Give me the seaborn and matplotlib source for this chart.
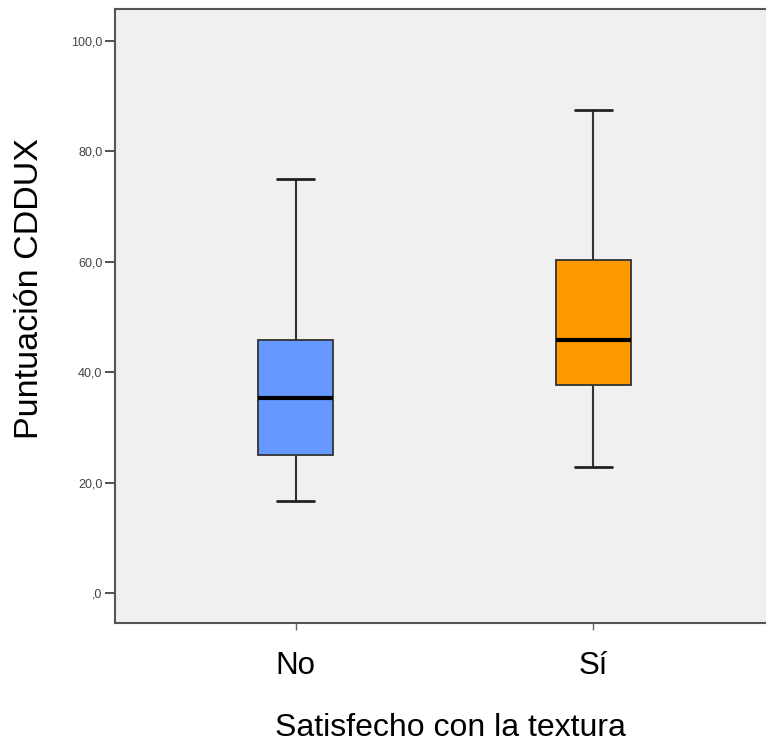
import pandas as pd
import matplotlib.pyplot as plt
import seaborn as sns

# data (five-number summaries per group)
groups = ["No", "Sí"]
no_vals = [16.7, 25.0, 35.4, 45.8, 75.0]
si_vals = [22.9, 37.6, 45.8, 60.4, 87.5]
box_colors = ["#6699FF", "#FF9900"]
y_ticks = [0, 20, 40, 60, 80, 100]
y_tick_labels = [",0", "20,0", "40,0", "60,0", "80,0", "100,0"]

df = pd.DataFrame({
    "grupo": [groups[0]] * len(no_vals) + [groups[1]] * len(si_vals),
    "valor": no_vals + si_vals,
})

sns.set_style("white")
plt.rcParams['font.family'] = ['Liberation Sans', 'DejaVu Sans']

fig = plt.figure(figsize=(7.66, 7.43), dpi=100)
ax = fig.add_axes([0.150, 0.1615, 0.85, 0.8265])
ax.set_facecolor("#F0F0F0")

sns.boxplot(data=df, x="grupo", y="valor", hue="grupo", palette=box_colors,
            order=groups, width=0.25, whis=10, legend=False, ax=ax,
            saturation=1, linecolor="#333333", linewidth=1.3,
            medianprops=dict(color="black", linewidth=3),
            capprops=dict(color="#222222", linewidth=2),
            whiskerprops=dict(color="#333333", linewidth=1.5))

ax.set_xlim(-0.607, 1.58)
ax.set_ylim(-5.43, 105.8)
ax.set_yticks(y_ticks)
ax.set_yticklabels(y_tick_labels, fontsize=9, color="#444444")
ax.tick_params(axis="y", length=7, width=1.2, color="#333333", direction="out", left=True, pad=2)
ax.tick_params(axis="x", length=5, width=1, color="#666666", direction="out", bottom=True,
               labelsize=22.5, pad=15, labelcolor="black")

for side in ["left", "bottom", "top"]:
    ax.spines[side].set_color("#555555")
    ax.spines[side].set_linewidth(1.5)
ax.spines["right"].set_visible(False)

ax.set_xlabel("Satisfecho con la textura", fontsize=23, color="black")
ax.set_ylabel("Puntuación CDDUX", fontsize=24.5, color="black")
ax.xaxis.set_label_coords(0.516, -0.146)
ax.yaxis.set_label_coords(-0.107, 0.545)

plt.savefig("out.png", dpi=100, facecolor="white")
